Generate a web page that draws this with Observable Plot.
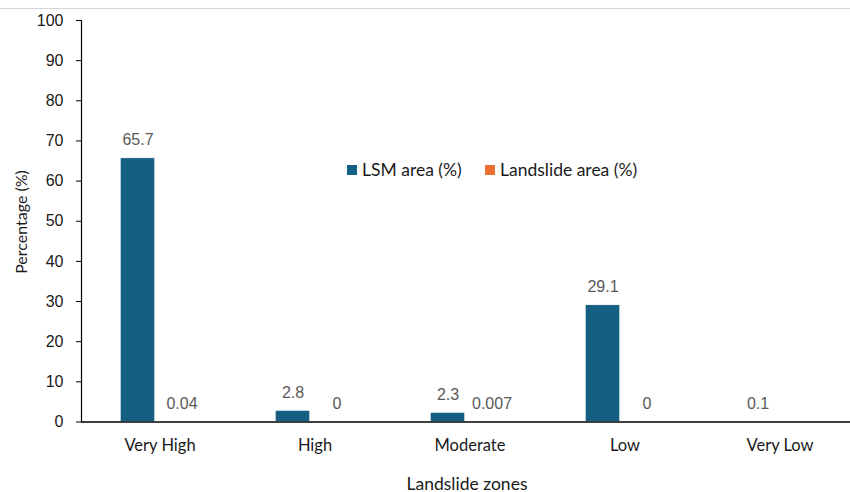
<!DOCTYPE html>
<html><head><meta charset="utf-8">
<script src="https://cdn.jsdelivr.net/npm/d3@7"></script>
<script src="https://cdn.jsdelivr.net/npm/@observablehq/plot@0.6"></script>
<style>
body{margin:0;background:#fff;}
#wrap{position:relative;width:850px;height:492px;overflow:hidden;background:#fff;}
#topline{position:absolute;left:0;top:8px;width:850px;height:0;border-top:1px solid #d4d4d4;}
.lbl{position:absolute;font-family:Lato,sans-serif;color:#1a1a1a;white-space:nowrap;}
#ytitle{left:20px;top:222px;font-size:16px;transform:translate(-50%,-50%) rotate(-90deg);}
#xtitle{left:467px;top:483px;font-size:17.5px;transform:translate(-50%,-50%);}
.legend{position:absolute;top:159px;font-family:Lato,sans-serif;font-size:17.5px;color:#1a1a1a;display:flex;align-items:center;white-space:nowrap;}
.sw{width:10px;height:10px;margin-right:5px;display:inline-block;}
</style></head><body>
<div id="wrap"><div id="topline"></div></div>
<script>
const zones = ["Very High", "High", "Moderate", "Low", "Very Low"];
const lsmArea = [65.7, 2.8, 2.3, 29.1, 0.1];
const landslideArea = [0.04, 0, 0.007, 0, null];
const seriesNames = ["LSM area (%)", "Landslide area (%)"];
const seriesColors = ["#156082", "#E97132"];
const yTicks = [0, 10, 20, 30, 40, 50, 60, 70, 80, 90, 100];

const lsm = zones.map((z, i) => ({zone: z, value: lsmArea[i]}));
const ls = zones.map((z, i) => ({zone: z, value: landslideArea[i]})).filter(d => d.value != null);

const num = "'Liberation Sans', Arial, sans-serif";
const inset = 60.2;

const chart = Plot.plot({
  width: 850,
  height: 492,
  marginLeft: 81,
  marginRight: 0,
  marginTop: 20,
  marginBottom: 70.5,
  style: {background: "transparent", overflow: "visible"},
  x: {domain: zones, range: [81.3, 858.3], padding: 0},
  y: {domain: [0, 100], range: [421.5, 20]},
  marks: [
    Plot.barY(lsm, {x: "zone", y: "value", fill: seriesColors[0], stroke: "#ffffff", strokeWidth: 0.8, insetLeft: inset, insetRight: inset, dx: -22}),
    Plot.barY(ls, {x: "zone", y: "value", fill: seriesColors[1], insetLeft: inset, insetRight: inset, dx: 22}),
    Plot.text(lsm, {x: "zone", y: "value", text: d => String(d.value), dx: -22, dy: -18, lineAnchor: "middle", fill: "#595959", fontSize: 16, fontFamily: num}),
    Plot.text(ls, {x: "zone", y: "value", text: d => String(d.value), dx: 22, dy: -18, lineAnchor: "middle", fill: "#595959", fontSize: 16, fontFamily: num}),
    Plot.frame({anchor: "left", stroke: "#000", strokeWidth: 1.2}),
    Plot.ruleY([0], {stroke: "#000", strokeWidth: 1.5}),
    Plot.axisY({ticks: yTicks, tickSize: 5, tickPadding: 13, label: null, fontSize: 16, fontFamily: num, color: "#1a1a1a", stroke: "#000"}),
    Plot.axisX({tickSize: 0, tickPadding: 17, label: null, fontSize: 16.5, fontFamily: "Lato, sans-serif", color: "#1a1a1a"})
  ]
});

const wrap = document.getElementById("wrap");
chart.style.position = "absolute";
chart.style.left = "0";
chart.style.top = "0";
wrap.appendChild(chart);

const yt = document.createElement("div");
yt.className = "lbl"; yt.id = "ytitle"; yt.textContent = "Percentage (%)";
wrap.appendChild(yt);
const xt = document.createElement("div");
xt.className = "lbl"; xt.id = "xtitle"; xt.textContent = "Landslide zones";
wrap.appendChild(xt);

const legendLeft = [347, 485];
seriesNames.forEach((name, i) => {
  const item = document.createElement("div");
  item.className = "legend";
  item.style.left = legendLeft[i] + "px";
  const sw = document.createElement("span");
  sw.className = "sw";
  sw.style.background = seriesColors[i];
  item.appendChild(sw);
  item.appendChild(document.createTextNode(name));
  wrap.appendChild(item);
});
</script>
</body></html>
